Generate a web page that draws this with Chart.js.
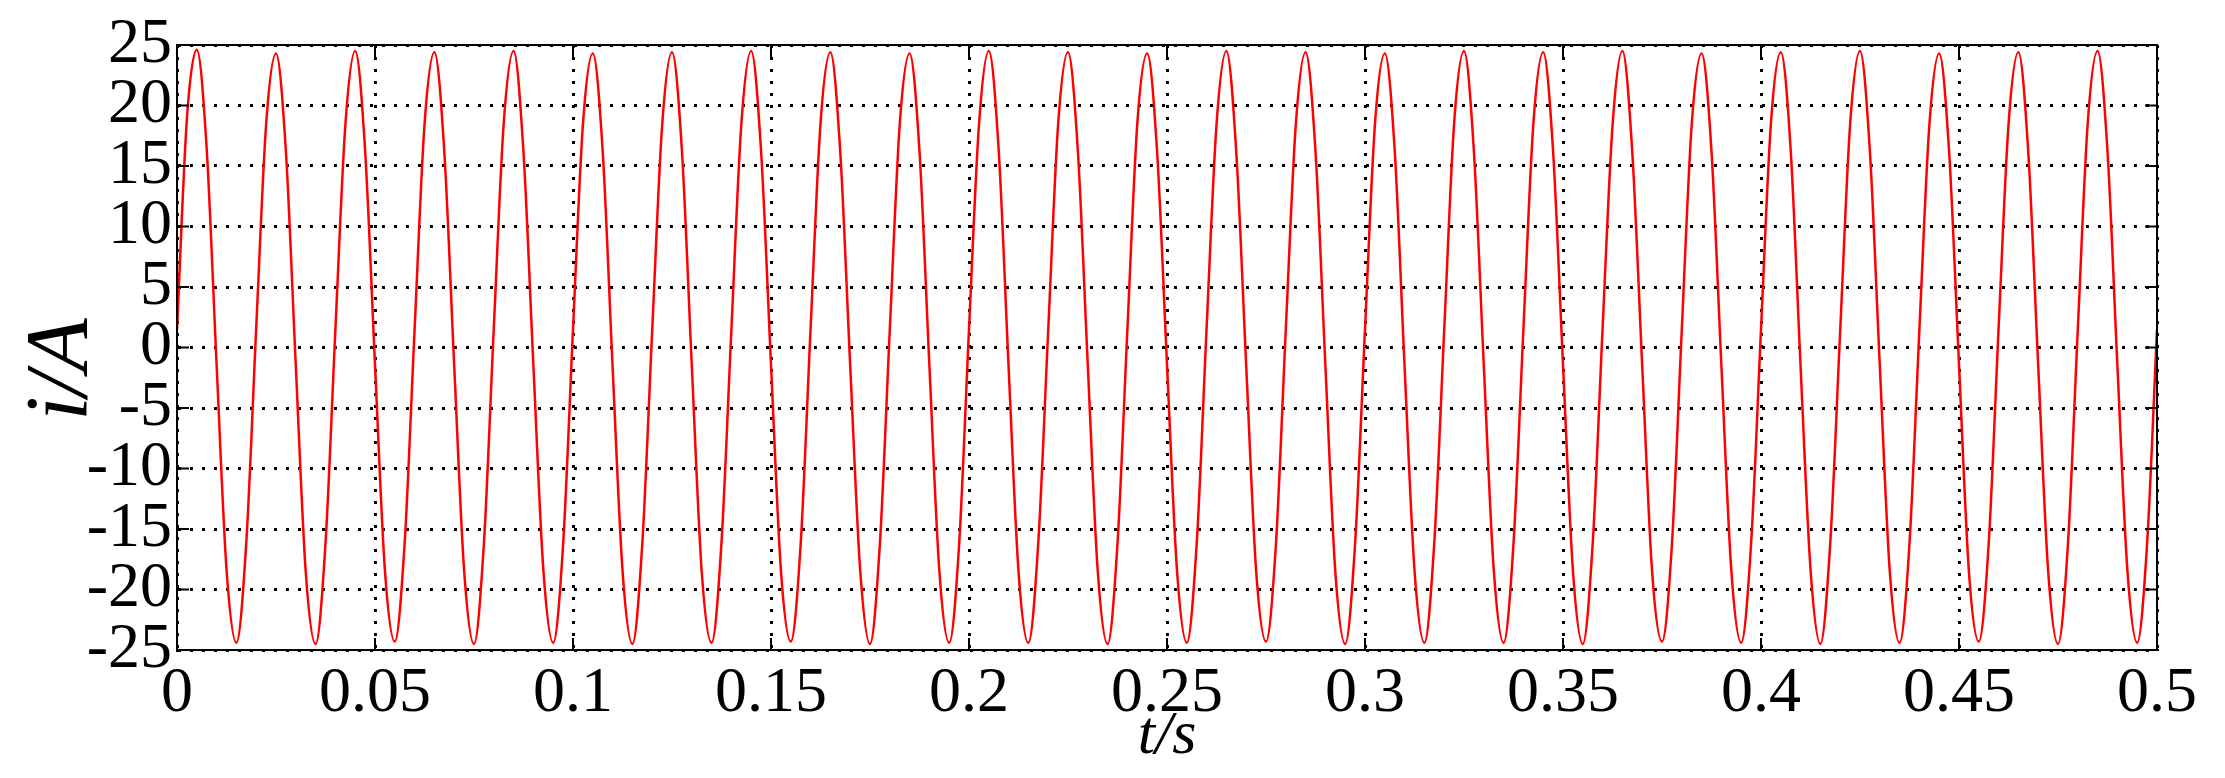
<!DOCTYPE html>
<html>
<head>
<meta charset="utf-8">
<script src="https://cdn.jsdelivr.net/npm/chart.js@4.4.1/dist/chart.umd.min.js"></script>
<style>
  html, body { margin: 0; padding: 0; background: #fff; }
  canvas { display: block; }
</style>
</head>
<body>
<canvas id="currentChart" width="2225" height="778"></canvas>
<script>
// Sampled current i (A), one value every 2.5 ms from t = 0 to t = 0.5 s
const sampleStep = 0.0025;
const current = [
    1.5, 18.9, 24.6, 16.4, -1.4, -18.3, -24.4, -16.1,
    1.6, 18.4, 24.3, 16.2, -1.5, -18.5, -24.5, -16.2,
    1.5, 18.3, 24.5, 16.3, -1.4, -18.4, -24.3, -16.1,
    1.5, 18.4, 24.4, 16.2, -1.5, -18.4, -24.5, -16.2,
    1.6, 18.5, 24.5, 16.1, -1.5, -18.3, -24.4, -16.3,
    1.5, 18.4, 24.3, 16.2, -1.6, -18.4, -24.5, -16.2,
    1.4, 18.3, 24.4, 16.3, -1.5, -18.5, -24.4, -16.1,
    1.5, 18.4, 24.5, 16.2, -1.4, -18.4, -24.3, -16.2,
    1.6, 18.5, 24.4, 16.1, -1.5, -18.3, -24.5, -16.2,
    1.5, 18.4, 24.3, 16.2, -1.5, -18.4, -24.4, -16.3,
    1.5, 18.3, 24.5, 16.3, -1.6, -18.5, -24.4, -16.1,
    1.4, 18.4, 24.4, 16.2, -1.5, -18.4, -24.5, -16.2,
    1.5, 18.5, 24.3, 16.2, -1.4, -18.3, -24.4, -16.2,
    1.6, 18.4, 24.5, 16.1, -1.5, -18.4, -24.3, -16.3,
    1.5, 18.3, 24.4, 16.2, -1.5, -18.5, -24.5, -16.2,
    1.5, 18.4, 24.3, 16.3, -1.6, -18.4, -24.4, -16.1,
    1.4, 18.5, 24.5, 16.2, -1.5, -18.3, -24.4, -16.2,
    1.5, 18.4, 24.4, 16.2, -1.4, -18.4, -24.5, -16.2,
    1.6, 18.3, 24.5, 16.1, -1.5, -18.5, -24.3, -16.3,
    1.5, 18.4, 24.3, 16.2, -1.5, -18.4, -24.4, -16.2,
    1.5, 18.5, 24.4, 16.3, -1.6, -18.3, -24.5, -16.1,
    1.4, 18.4, 24.5, 16.2, -1.5, -18.4, -24.4, -16.2,
    1.5, 18.3, 24.3, 16.2, -1.4, -18.5, -24.3, -16.2,
    1.6, 18.4, 24.4, 16.1, -1.5, -18.4, -24.5, -16.3,
    1.5, 18.5, 24.5, 16.2, -1.5, -18.3, -24.4, -16.2,
    1.5
];
const xTicks = [0, 0.05, 0.1, 0.15, 0.2, 0.25, 0.3, 0.35, 0.4, 0.45, 0.5];
const yTicks = [-25, -20, -15, -10, -5, 0, 5, 10, 15, 20, 25];

const points = current.map((v, i) => ({ x: i * sampleStep, y: v }));

// box round the plot plus short inward ticks (MATLAB style)
const framePlugin = {
    id: 'frame',
    afterDatasetsDraw(chart) {
        const { ctx, chartArea: a, scales: { x, y } } = chart;
        const len = 12;
        ctx.save();
        ctx.strokeStyle = '#000';
        ctx.lineWidth = 2;
        ctx.strokeRect(a.left, a.top, a.right - a.left, a.bottom - a.top);
        ctx.beginPath();
        xTicks.forEach(t => {
            const px = x.getPixelForValue(t);
            ctx.moveTo(px, a.bottom); ctx.lineTo(px, a.bottom - len);
            ctx.moveTo(px, a.top); ctx.lineTo(px, a.top + len);
        });
        yTicks.forEach(t => {
            const py = y.getPixelForValue(t);
            ctx.moveTo(a.left, py); ctx.lineTo(a.left + len, py);
            ctx.moveTo(a.right, py); ctx.lineTo(a.right - len, py);
        });
        ctx.stroke();
        ctx.restore();
    }
};

const serif = '"Liberation Serif", "Times New Roman", serif';
const gridStyle = {
    color: '#000',
    lineWidth: 3,
    drawTicks: false
};

new Chart(document.getElementById('currentChart').getContext('2d'), {
    type: 'line',
    data: {
        datasets: [{
            data: points,
            borderColor: '#ff0000',
            borderWidth: 2.5,
            pointRadius: 0,
            cubicInterpolationMode: 'monotone',
            fill: false
        }]
    },
    options: {
        responsive: false,
        animation: false,
        layout: { padding: { top: 45, right: 68, left: 0, bottom: 0 } },
        plugins: {
            legend: { display: false },
            tooltip: { enabled: false }
        },
        scales: {
            x: {
                type: 'linear',
                min: 0,
                max: 0.5,
                afterBuildTicks: s => { s.ticks = xTicks.map(v => ({ value: v })); },
                afterFit: s => { s.height = 128; },
                ticks: {
                    color: '#000',
                    padding: 12,
                    maxRotation: 0,
                    autoSkip: false,
                    font: { family: serif, size: 64, lineHeight: 1 },
                    callback: v => String(Number(v.toFixed(2)))
                },
                grid: gridStyle,
                border: { display: true, color: '#000', width: 2, dash: [3, 9] },
                title: {
                    display: true,
                    text: 't/s',
                    color: '#000',
                    font: { family: serif, size: 62, style: 'italic', lineHeight: 1 },
                    padding: { top: 0, bottom: 10 }
                }
            },
            y: {
                type: 'linear',
                min: -25,
                max: 25,
                afterBuildTicks: s => { s.ticks = yTicks.map(v => ({ value: v })); },
                afterFit: s => { s.width = 177; },
                ticks: {
                    color: '#000',
                    padding: 5,
                    autoSkip: false,
                    font: { family: serif, size: 64, lineHeight: 1 }
                },
                grid: gridStyle,
                border: { display: true, color: '#000', width: 2, dash: [3, 9] },
                title: {
                    display: true,
                    text: 'i/A\u00a0\u00a0',
                    color: '#000',
                    font: { family: serif, size: 88, style: 'italic', lineHeight: 1 },
                    padding: { top: 19, bottom: 0 }
                }
            }
        }
    },
    plugins: [framePlugin]
});
</script>
</body>
</html>
